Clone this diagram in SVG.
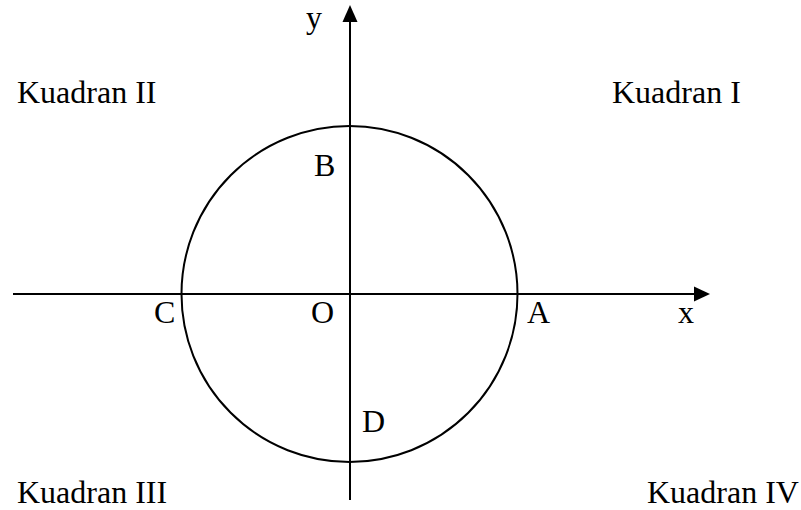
<svg xmlns="http://www.w3.org/2000/svg" width="801" height="510" viewBox="0 0 801 510">
<style>
text { font-family: "Liberation Serif", "Times New Roman", serif; font-size: 32px; fill: #000; }
.ln { stroke: #000; stroke-width: 2; fill: none; }
.ah { fill: #000; stroke: none; }
</style>
<rect width="801" height="510" fill="#fff"/>
<g id="connectors">
  <line class="ln" x1="13" y1="294" x2="696" y2="294"/>
  <polygon class="ah" points="710,294 694,286.5 694,301.5"/>
  <line class="ln" x1="350" y1="500" x2="350" y2="20"/>
  <polygon class="ah" points="350,5 342.5,22 357.5,22"/>
</g>
<g id="circle">
  <circle class="ln" cx="349.5" cy="294" r="168"/>
</g>
<g id="labels">
  <text x="306" y="28">y</text>
  <text x="678" y="323">x</text>
  <text x="314" y="176">B</text>
  <text x="154" y="323">C</text>
  <text x="311" y="323">O</text>
  <text x="527" y="323">A</text>
  <text x="362" y="432">D</text>
</g>
<g id="quadrants">
  <text x="17" y="103">Kuadran II</text>
  <text x="612" y="103">Kuadran I</text>
  <text x="17" y="503">Kuadran III</text>
  <text x="647" y="503">Kuadran IV</text>
</g>
</svg>
